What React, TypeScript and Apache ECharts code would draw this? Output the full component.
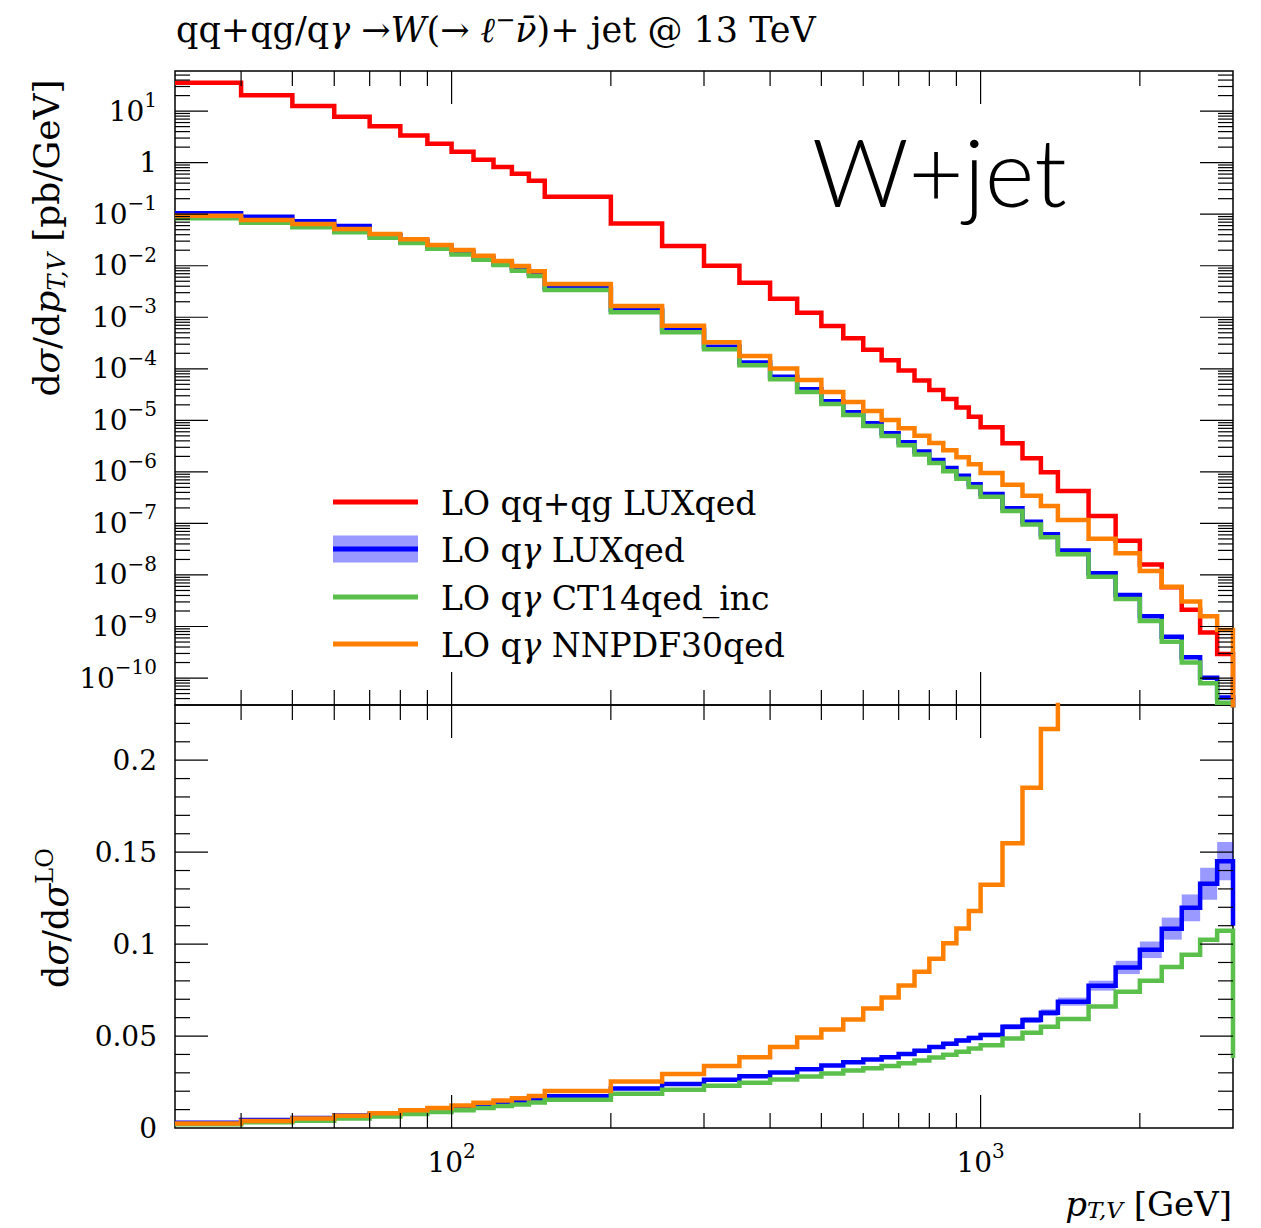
import React, { useEffect, useRef } from 'react';
import * as echarts from 'echarts';

const SERIF = '"DejaVu Serif", "Liberation Serif", serif';

// pT,V bin edges [GeV]
const binEdges = [30, 40, 50, 60, 70, 80, 90, 100, 110, 120, 130, 140, 150, 200, 250, 300, 350, 400, 450, 500, 550, 600, 650, 700, 750, 800, 850, 900, 950, 1000, 1100, 1200, 1300, 1400, 1600, 1800, 2000, 2200, 2400, 2600, 2800, 3000];

// dσ/dpT,V [pb/GeV] per bin
const loQqQgLux = [35.4, 20.4, 12.5, 7.76, 5.1, 3.38, 2.32, 1.62, 1.14, 0.82, 0.61, 0.445, 0.218, 0.066, 0.0241, 0.0100, 0.00469, 0.00229, 0.00123, 6.78e-4, 3.91e-4, 2.35e-4, 1.47e-4, 9.3e-5, 5.9e-5, 3.89e-5, 2.6e-5, 1.77e-5, 1.18e-5, 7.35e-6, 3.6e-6, 1.84e-6, 9.86e-7, 4.27e-7, 1.40e-7, 4.59e-8, 1.59e-8, 5.8e-9, 2.11e-9, 7.66e-10, 2.92e-10];
const loQgLux = [0.104, 0.0891, 0.0726, 0.0589, 0.039, 0.030, 0.0235, 0.0183, 0.0143, 0.0112, 0.0089, 0.0070, 0.0037, 0.00138, 5.74e-4, 2.69e-4, 1.32e-4, 7.05e-5, 4.01e-5, 2.35e-5, 1.44e-5, 8.8e-6, 5.62e-6, 3.74e-6, 2.48e-6, 1.71e-6, 1.19e-6, 8.43e-7, 5.78e-7, 3.72e-7, 1.98e-7, 1.08e-7, 6.18e-8, 3.0e-8, 1.08e-8, 4.1e-9, 1.58e-9, 6.3e-10, 2.52e-10, 1.01e-10, 4.2e-11];
const loQgCT14 = [0.083, 0.0682, 0.0556, 0.0445, 0.0349, 0.0275, 0.0214, 0.0166, 0.0131, 0.0103, 0.0080, 0.0063, 0.00338, 0.00125, 5.11e-4, 2.39e-4, 1.17e-4, 6.27e-5, 3.56e-5, 2.08e-5, 1.27e-5, 7.8e-6, 4.99e-6, 3.27e-6, 2.17e-6, 1.49e-6, 1.03e-6, 7.33e-7, 5.1e-7, 3.31e-7, 1.75e-7, 9.53e-8, 5.42e-8, 2.53e-8, 9.2e-9, 3.4e-9, 1.28e-9, 5.05e-10, 2.0e-10, 7.9e-11, 3.3e-11];
const loQgNNPDF = [0.0933, 0.0769, 0.0644, 0.0515, 0.0412, 0.0325, 0.0252, 0.0202, 0.0156, 0.0123, 0.00986, 0.0078, 0.00442, 0.00166, 6.87e-4, 3.27e-4, 1.77e-4, 1.01e-4, 6.08e-5, 3.56e-5, 2.28e-5, 1.52e-5, 1.02e-5, 7.03e-6, 5.0e-6, 3.65e-6, 2.64e-6, 1.93e-6, 1.41e-6, 9.5e-7, 5.6e-7, 3.45e-7, 2.17e-7, 1.17e-7, 5.05e-8, 2.63e-8, 1.2e-8, 5.9e-9, 3.05e-9, 1.58e-9, 8.55e-10];
// overflow beyond 3 TeV: [qq+qg, LUXqed, CT14, NNPDF]
const overflowXs = [1e-11, 1e-12, 4e-13, 2e-11];

// ratio to the LO qq+qg prediction
const ratioLux = [0.0028, 0.0043, 0.0055, 0.0068, 0.0077, 0.0089, 0.0099, 0.0109, 0.0119, 0.0130, 0.0141, 0.0152, 0.0172, 0.0215, 0.0239, 0.0263, 0.0281, 0.0302, 0.0320, 0.0340, 0.0358, 0.0372, 0.0385, 0.0402, 0.0420, 0.0440, 0.0458, 0.0476, 0.0490, 0.0506, 0.0550, 0.0587, 0.0627, 0.0687, 0.0774, 0.0873, 0.0969, 0.1084, 0.1197, 0.1328, 0.1451];
const ratioLuxUnc = [0.0004, 0.0004, 0.0004, 0.0004, 0.0004, 0.0004, 0.0004, 0.0004, 0.0004, 0.0004, 0.0004, 0.0004, 0.0004, 0.0005, 0.0005, 0.0006, 0.0006, 0.0006, 0.0007, 0.0007, 0.0008, 0.0008, 0.0009, 0.0009, 0.001, 0.001, 0.0011, 0.0011, 0.0012, 0.0012, 0.0014, 0.0016, 0.0018, 0.0022, 0.0027, 0.0036, 0.0045, 0.006, 0.0073, 0.0087, 0.0104];
const ratioCT14 = [0.0021, 0.0031, 0.0040, 0.0051, 0.0063, 0.0076, 0.0087, 0.0097, 0.0109, 0.0120, 0.0128, 0.0138, 0.0154, 0.0186, 0.0208, 0.0230, 0.0246, 0.0264, 0.0280, 0.0297, 0.0313, 0.0325, 0.0337, 0.0352, 0.0367, 0.0383, 0.0398, 0.0414, 0.0432, 0.0450, 0.0487, 0.0518, 0.0550, 0.0592, 0.0660, 0.0741, 0.0800, 0.0875, 0.0942, 0.1024, 0.1073];
const ratioNNPDF = [0.0024, 0.0038, 0.0051, 0.0066, 0.0080, 0.0096, 0.0109, 0.0123, 0.0137, 0.0150, 0.0162, 0.0174, 0.0201, 0.0253, 0.0293, 0.0337, 0.0385, 0.0440, 0.0492, 0.0535, 0.0590, 0.0650, 0.0710, 0.0775, 0.0850, 0.0920, 0.1005, 0.1085, 0.1180, 0.1322, 0.1548, 0.1850, 0.2170, 0.274, 0.36, 0.57, 0.75, 1.02, 1.45, 2.05, 2.93];
// overflow beyond 3 TeV: [LUXqed, CT14, NNPDF]
const overflowRatio = [0.11, 0.038, 3.0];

// axis ranges and tick labels
const X_MIN = 30;
const X_MAX = 3000;
const Y_MIN = 3e-11;
const Y_MAX = 60;
const R_MIN = 0;
const R_MAX = 0.23;
const xLabelDecades = [2, 3];
const yLabelDecades = [1, 0, -1, -2, -3, -4, -5, -6, -7, -8, -9, -10];
const ratioLabelValues = [0, 0.05, 0.1, 0.15, 0.2];
const ratioLabelTexts = ['0', '0.05', '0.1', '0.15', '0.2'];

const RED = '#ff0000';
const BLUE = '#0000ff';
const GREEN = '#5bc04b';
const ORANGE = '#ff8000';
const BAND = 'rgba(0,0,255,0.4)';

// tick positions
const xTicks: { v: number; major: boolean }[] = [];
for (let d = 1; d <= 3; d++) {
  for (let k = 1; k <= 9; k++) {
    const v = k * Math.pow(10, d);
    if (v > X_MIN * 1.001 && v < X_MAX * 0.999) xTicks.push({ v, major: k === 1 });
  }
}
const yTicksTop: { v: number; major: boolean }[] = [];
for (let d = -11; d <= 1; d++) {
  for (let k = 1; k <= 9; k++) {
    const v = k * Math.pow(10, d);
    if (v > Y_MIN * 1.001 && v < Y_MAX * 0.999) yTicksTop.push({ v, major: k === 1 });
  }
}
const yTicksRatio: { v: number; major: boolean }[] = [];
for (let i = 1; i <= 22; i++) yTicksRatio.push({ v: i / 100, major: i % 5 === 0 });

const TICK_FONT = 28;
const tickRich = {
  b: { fontFamily: SERIF, fontSize: TICK_FONT, lineHeight: 42, fill: '#000' },
  s: { fontFamily: SERIF, fontSize: 20, height: 20, lineHeight: 20, verticalAlign: 'top', fill: '#000' },
};

const textRich = (size: number, lh: number) => {
  const small = Math.round(size * 0.68);
  return {
    n: { fontFamily: SERIF, fontSize: size, lineHeight: lh, fill: '#000' },
    i: { fontFamily: SERIF, fontSize: size, fontStyle: 'italic', lineHeight: lh, fill: '#000' },
    sup: { fontFamily: SERIF, fontSize: small, height: small, lineHeight: small, verticalAlign: 'top', fill: '#000' },
    sub: { fontFamily: SERIF, fontSize: small, fontStyle: 'italic', height: small, lineHeight: small, verticalAlign: 'bottom', fill: '#000' },
  };
};

const decadeLabel = (d: number) => (d === 0 ? '{b|1}' : `{b|10}{s|${d < 0 ? '\u2212' + -d : d}}`);

const stepPoints = (vals: number[], after: number) => {
  const pts = vals.map((v, i) => [binEdges[i], v]);
  pts.push([binEdges[vals.length], after]);
  return pts;
};

const stepLine = (color: string, data: number[][], axis: number, z: number) => ({
  type: 'line',
  xAxisIndex: axis,
  yAxisIndex: axis,
  data,
  step: 'end',
  symbol: 'none',
  showSymbol: false,
  silent: true,
  z,
  lineStyle: { color, width: 4.5, join: 'miter', cap: 'butt' },
  itemStyle: { color },
});

const hiddenAxis = {
  axisLine: { show: false },
  axisTick: { show: false },
  axisLabel: { show: false },
  splitLine: { show: false },
};

type Seg = { x1: number; y1: number; x2: number; y2: number };
const tickLine = (s: Seg) => ({ type: 'line', shape: s, style: { stroke: '#000', lineWidth: 1.2 } });

const tickText = (x: number, y: number, text: string, align: string) => ({
  type: 'text',
  x,
  y,
  style: { text, rich: tickRich, align, verticalAlign: 'middle', fontFamily: SERIF, fontSize: TICK_FONT, fill: '#000' },
});

function renderTopFrame(_params: any, api: any) {
  const children: any[] = [];
  xTicks.forEach((t) => {
    const len = t.major ? 33 : 15;
    const b = api.coord([t.v, Y_MIN]);
    const top = api.coord([t.v, Y_MAX]);
    children.push(tickLine({ x1: b[0], y1: b[1], x2: b[0], y2: b[1] - len }));
    children.push(tickLine({ x1: top[0], y1: top[1], x2: top[0], y2: top[1] + len }));
  });
  yTicksTop.forEach((t) => {
    const len = t.major ? 33 : 15;
    const l = api.coord([X_MIN, t.v]);
    const r = api.coord([X_MAX, t.v]);
    children.push(tickLine({ x1: l[0], y1: l[1], x2: l[0] + len, y2: l[1] }));
    children.push(tickLine({ x1: r[0], y1: r[1], x2: r[0] - len, y2: r[1] }));
  });
  yLabelDecades.forEach((d) => {
    const p = api.coord([X_MIN, Math.pow(10, d)]);
    children.push(tickText(p[0] - 18, p[1], decadeLabel(d), 'right'));
  });
  return { type: 'group', children };
}

function renderRatioFrame(_params: any, api: any) {
  const children: any[] = [];
  xTicks.forEach((t) => {
    const len = t.major ? 33 : 15;
    const b = api.coord([t.v, R_MIN]);
    const top = api.coord([t.v, R_MAX]);
    children.push(tickLine({ x1: b[0], y1: b[1], x2: b[0], y2: b[1] - len }));
    children.push(tickLine({ x1: top[0], y1: top[1], x2: top[0], y2: top[1] + len }));
  });
  yTicksRatio.forEach((t) => {
    const len = t.major ? 33 : 15;
    const l = api.coord([X_MIN, t.v]);
    const r = api.coord([X_MAX, t.v]);
    children.push(tickLine({ x1: l[0], y1: l[1], x2: l[0] + len, y2: l[1] }));
    children.push(tickLine({ x1: r[0], y1: r[1], x2: r[0] - len, y2: r[1] }));
  });
  ratioLabelValues.forEach((v, i) => {
    const p = api.coord([X_MIN, v]);
    children.push(tickText(p[0] - 18, p[1], `{b|${ratioLabelTexts[i]}}`, 'right'));
  });
  xLabelDecades.forEach((d) => {
    const p = api.coord([Math.pow(10, d), R_MIN]);
    children.push(tickText(p[0], p[1] + 34, decadeLabel(d), 'center'));
  });
  return { type: 'group', children };
}

function renderBand(params: any, api: any) {
  const i = params.dataIndex;
  const p1 = api.coord([binEdges[i], ratioLux[i] + ratioLuxUnc[i]]);
  const p2 = api.coord([binEdges[i + 1], ratioLux[i] - ratioLuxUnc[i]]);
  return {
    type: 'rect',
    shape: { x: p1[0], y: p1[1], width: p2[0] - p1[0], height: p2[1] - p1[1] },
    style: { fill: BAND },
  };
}

const legendRows = [
  { text: '{n|LO qq+qg LUXqed}', color: RED, band: false },
  { text: '{n|LO q}{i|γ}{n| LUXqed}', color: BLUE, band: true },
  { text: '{n|LO q}{i|γ}{n| CT14qed_inc}', color: GREEN, band: false },
  { text: '{n|LO q}{i|γ}{n| NNPDF30qed}', color: ORANGE, band: false },
];

const richText = (x: number, y: number, text: string, size: number, lh: number, align: string, rotation = 0) => ({
  type: 'text',
  x,
  y,
  rotation,
  style: {
    text,
    rich: textRich(size, lh),
    align,
    verticalAlign: 'middle',
    fontFamily: SERIF,
    fontSize: size,
    fill: '#000',
  },
});

function buildGraphic() {
  const els: any[] = [];
  els.push(richText(176, 30, '{n|qq+qg/q}{i|γ}{n| →}{i|W}{n|(→ }{i|ℓ}{sup|−}{i|ν̄}{n|)+ jet @ 13 TeV}', 35, 44, 'left'));
  els.push(richText(46, 238, '{n|d}{i|σ}{n|/d}{i|p}{sub|T,V}{n| [pb/GeV]}', 36, 46, 'center', Math.PI / 2));
  els.push(richText(56, 918, '{n|d}{i|σ}{n|/d}{i|σ}{sup|LO}', 35, 46, 'center', Math.PI / 2));
  els.push(richText(1232, 1204, '{i|p}{sub|T,V}{n| [GeV]}', 34, 34, 'right'));
  els.push({
    type: 'text',
    x: 812,
    y: 170,
    style: {
      text: 'W+jet',
      fontFamily: 'Lato, "Open Sans", sans-serif',
      fontWeight: 300,
      fontSize: 95,
      align: 'left',
      verticalAlign: 'middle',
      fill: '#000',
    },
  });
  const rowY = [502, 549, 597, 644];
  legendRows.forEach((row, i) => {
    const y = rowY[i];
    if (row.band) {
      els.push({ type: 'rect', shape: { x: 333, y: y - 13.5, width: 85, height: 27 }, style: { fill: BAND } });
    }
    els.push({ type: 'line', shape: { x1: 333, y1: y, x2: 418, y2: y }, style: { stroke: row.color, lineWidth: 5 } });
    els.push(richText(441, y + 1, row.text, 33, 44, 'left'));
  });
  return els;
}

function buildOption() {
  return {
    animation: false,
    backgroundColor: '#ffffff',
    textStyle: { fontFamily: SERIF },
    grid: [
      { left: 175, top: 71, width: 1058, height: 634, show: true, borderColor: '#000', borderWidth: 1.5, backgroundColor: 'transparent' },
      { left: 175, top: 705, width: 1058, height: 423, show: true, borderColor: '#000', borderWidth: 1.5, backgroundColor: 'transparent' },
    ],
    xAxis: [
      { type: 'log', gridIndex: 0, min: X_MIN, max: X_MAX, ...hiddenAxis },
      { type: 'log', gridIndex: 1, min: X_MIN, max: X_MAX, ...hiddenAxis },
    ],
    yAxis: [
      { type: 'log', gridIndex: 0, min: Y_MIN, max: Y_MAX, ...hiddenAxis },
      { type: 'value', gridIndex: 1, min: R_MIN, max: R_MAX, ...hiddenAxis },
    ],
    series: [
      stepLine(RED, stepPoints(loQqQgLux, overflowXs[0]), 0, 2),
      stepLine(BLUE, stepPoints(loQgLux, overflowXs[1]), 0, 3),
      stepLine(GREEN, stepPoints(loQgCT14, overflowXs[2]), 0, 4),
      stepLine(ORANGE, stepPoints(loQgNNPDF, overflowXs[3]), 0, 5),
      {
        type: 'custom',
        xAxisIndex: 1,
        yAxisIndex: 1,
        data: ratioLux.map((v, i) => [binEdges[i], v]),
        renderItem: renderBand,
        silent: true,
        z: 1,
      },
      stepLine(BLUE, stepPoints(ratioLux, overflowRatio[0]), 1, 3),
      stepLine(GREEN, stepPoints(ratioCT14, overflowRatio[1]), 1, 4),
      stepLine(ORANGE, stepPoints(ratioNNPDF, overflowRatio[2]), 1, 5),
      {
        type: 'custom',
        xAxisIndex: 0,
        yAxisIndex: 0,
        data: [[100, 1]],
        renderItem: renderTopFrame,
        silent: true,
        clip: false,
        z: 10,
      },
      {
        type: 'custom',
        xAxisIndex: 1,
        yAxisIndex: 1,
        data: [[100, 0.1]],
        renderItem: renderRatioFrame,
        silent: true,
        clip: false,
        z: 10,
      },
    ],
    graphic: buildGraphic(),
  };
}

export default function App() {
  const ref = useRef<HTMLDivElement>(null);
  useEffect(() => {
    if (!ref.current) return;
    const chart = echarts.init(ref.current, undefined, { renderer: 'svg' });
    chart.setOption(buildOption() as any);
    return () => chart.dispose();
  }, []);
  return (
    <div
      ref={ref}
      style={{ position: 'absolute', left: 0, top: 0, width: 1261, height: 1228, background: '#fff' }}
    />
  );
}
